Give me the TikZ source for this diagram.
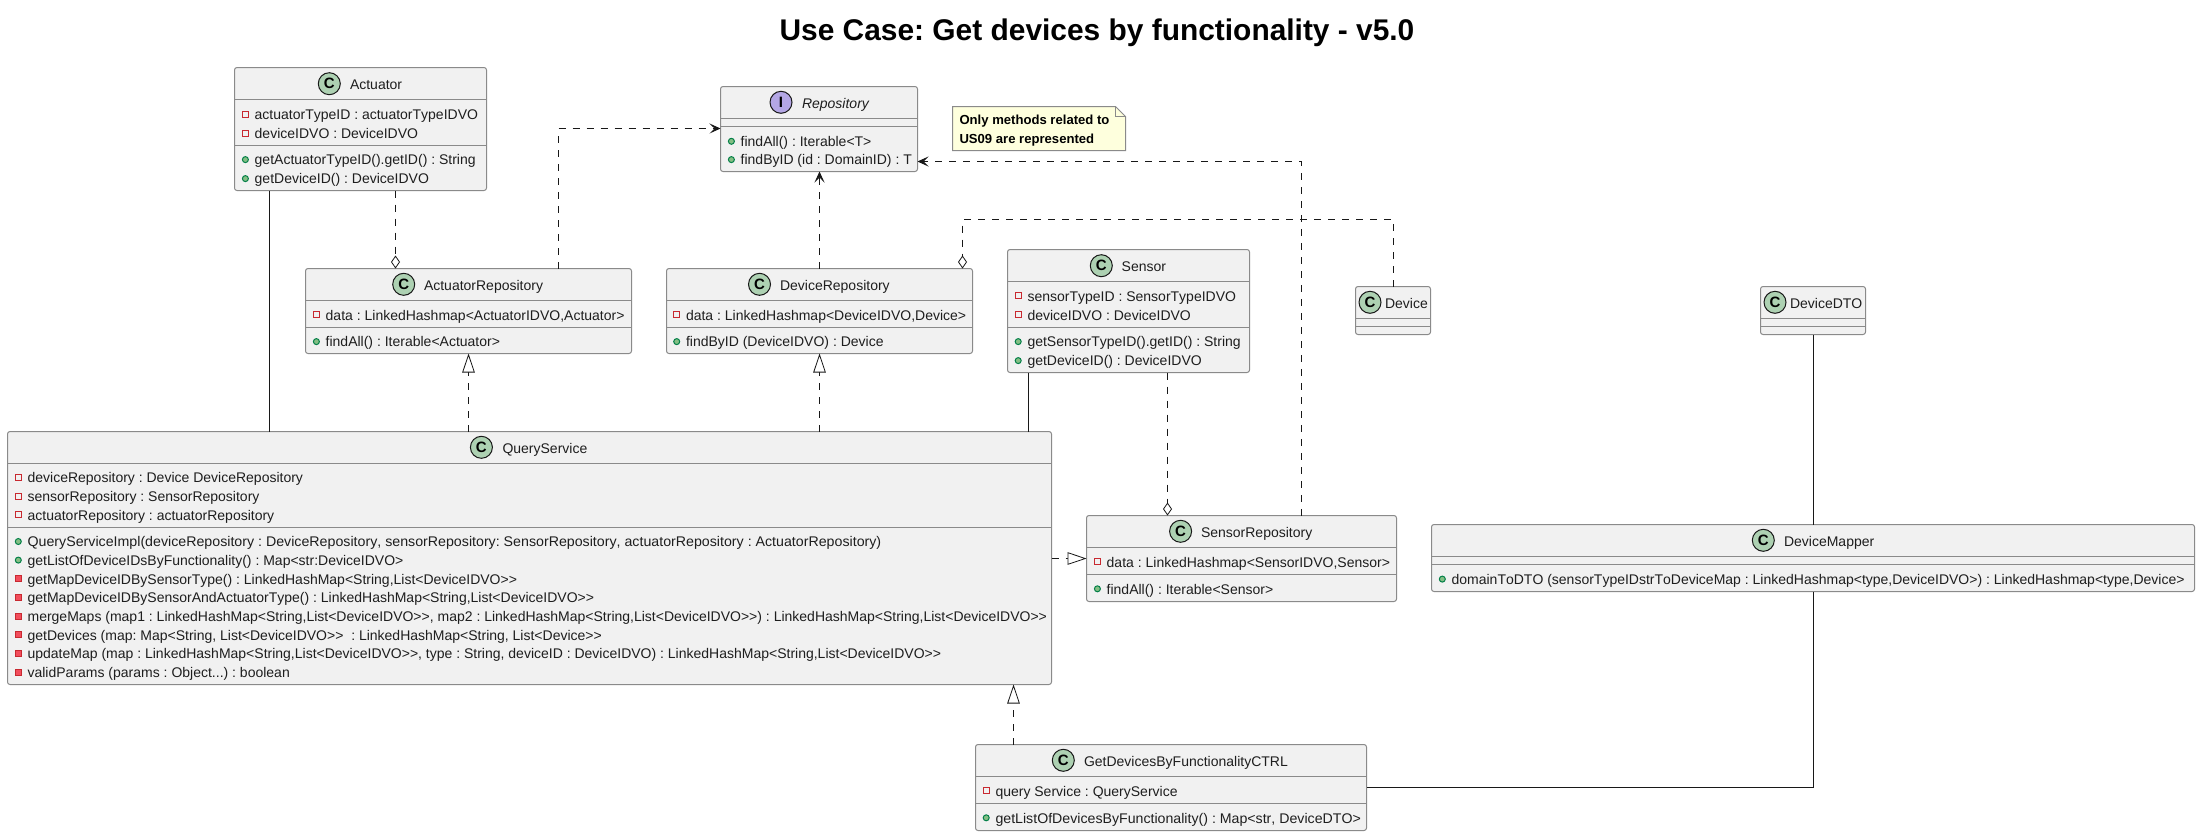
\documentclass[tikz,border=0pt]{standalone}
\usepackage{fontspec}
\usetikzlibrary{arrows.meta}
\newfontfamily\umlfont{Liberation Sans}[Kerning=Off]
\frenchspacing
\definecolor{boxfill}{HTML}{F1F1F1}
\definecolor{boxline}{HTML}{8A8A8A}
\definecolor{conn}{HTML}{181818}
\definecolor{txt}{HTML}{1E1E1E}
\definecolor{privline}{HTML}{C82930}
\definecolor{privfill}{HTML}{F24D5C}
\definecolor{publine}{HTML}{038048}
\definecolor{pubfill}{HTML}{84BE84}
\definecolor{iconc}{HTML}{ADD1B2}
\definecolor{iconi}{HTML}{B4A7E5}
\definecolor{notefill}{HTML}{FEFFDD}
\newcounter{rowno}
\tikzset{
  clsbox/.style={draw=boxline,fill=boxfill,line width=1pt,rounded corners=2.5pt,inner sep=0pt,outer sep=0pt},
  sepline/.style={draw=boxline,line width=1pt},
  rowtext/.style={inner sep=0pt,outer sep=0pt,anchor=base west,text=txt,font=\umlfont\fontsize{14}{16}\selectfont\frenchspacing},
  titletext/.style={rowtext},
  solidline/.style={draw=conn,line width=0.65pt},
  dashline/.style={draw=conn,line width=0.8pt,dash pattern=on 7pt off 7pt},
  dep/.style={dashline,-{Stealth[length=11pt,width=10pt,inset=5pt,fill=conn]}},
  aggr/.style={dashline,-{Diamond[open,length=13pt,width=9pt,fill=white]}},
  real/.style={dashline,-{Triangle[open,length=19pt,width=12.5pt,fill=white]}},
}
% name, x1, y1, x2, y2, sep1, sep2
\newcommand\clsbox[7]{%
  \pgfmathsetmacro\bw{#4-#2}\pgfmathsetmacro\bh{#5-#3}%
  \pgfmathsetmacro\cx{(#4+#2)/2}\pgfmathsetmacro\cy{(#5+#3)/2}%
  \node[clsbox,minimum width=\bw pt,minimum height=\bh pt] (#1) at (\cx,\cy) {};
  \draw[sepline] (#1.west |- 0,#6) -- (#1.east |- 0,#6);
  \draw[sepline] (#1.west |- 0,#7) -- (#1.east |- 0,#7);
}
% name, icon x, icon y, text x, letter, fill, title
\newcommand\clshead[7]{%
  \fill[#6,draw=conn,line width=1pt] (#2,#3) circle (11pt);
  \pgfmathsetmacro\by{#3+6}%
  \stepcounter{rowno}%
  \node[inner sep=0pt,anchor=center,text=black,font=\umlfont\fontsize{15}{16}\selectfont\bfseries] (ic\therowno) at (#2,#3) {#5};
  \node[titletext] (#1) at (#4,\by) {#7};
}
% attribute row
\newcommand\attr[3]{%
  \pgfmathsetmacro\mx{#1+10.7}\pgfmathsetmacro\my{#2-5.2}\pgfmathsetmacro\tx{#1+20}%
  \draw[privline,line width=1pt] (\mx-3,\my-3) rectangle (\mx+3,\my+3);
  \stepcounter{rowno}\node[rowtext] (r\therowno) at (\tx,#2) {#3};
}
% public method row
\newcommand\pubm[3]{%
  \pgfmathsetmacro\mx{#1+10.7}\pgfmathsetmacro\my{#2-5.2}\pgfmathsetmacro\tx{#1+20}%
  \fill[pubfill,draw=publine,line width=1pt] (\mx,\my) circle (3pt);
  \stepcounter{rowno}\node[rowtext] (r\therowno) at (\tx,#2) {#3};
}
% private method row
\newcommand\privm[3]{%
  \pgfmathsetmacro\mx{#1+10.7}\pgfmathsetmacro\my{#2-5.2}\pgfmathsetmacro\tx{#1+20}%
  \fill[privfill,draw=privline,line width=1pt] (\mx-3,\my-3) rectangle (\mx+3,\my+3);
  \stepcounter{rowno}\node[rowtext] (r\therowno) at (\tx,#2) {#3};
}
\begin{document}
\begin{tikzpicture}[x=1pt,y=-1pt]
\fill[white] (0,0) rectangle (2200,836);
\useasboundingbox (0,0) rectangle (2200,836);

% guide coordinates for connector positions
\coordinate (xA) at (269.5,0);
\coordinate (xB) at (395.5,0);
\coordinate (xC) at (558.5,0);
\coordinate (xD) at (468.5,0);
\coordinate (xE) at (819.5,0);
\coordinate (xF) at (1393.5,0);
\coordinate (xG) at (962.5,0);
\coordinate (xH) at (1301.5,0);
\coordinate (xI) at (1028.5,0);
\coordinate (xJ) at (1167.5,0);
\coordinate (xK) at (1013.5,0);
\coordinate (xL) at (1813.5,0);
\coordinate (yA) at (0,128.5);
\coordinate (yB) at (0,219.5);
\coordinate (yC) at (0,161.5);
\coordinate (yD) at (0,558.5);
\coordinate (yE) at (0,787.5);

\node[inner sep=0pt,anchor=base,text=black,font=\umlfont\fontsize{29.9}{32}\selectfont\bfseries\frenchspacing] (title) at (1097,40.7) {Use Case: Get devices by functionality - v5.0};

% Actuator
\clsbox{act}{234.5}{67.5}{486.5}{190.5}{99.5}{145.5}
\clshead{actT}{329.3}{83.7}{350}{C}{iconc}{Actuator}
\attr{234.7}{119.3}{actuatorTypeID : actuatorTypeIDVO}
\attr{234.7}{138.3}{deviceIDVO : DeviceIDVO}
\pubm{234.7}{164.8}{getActuatorTypeID().getID() : String}
\pubm{234.7}{183.8}{getDeviceID() : DeviceIDVO}

% ActuatorRepository
\clsbox{arepo}{305.5}{268.5}{631.5}{353.5}{300.5}{327.5}
\clshead{arepoT}{403.7}{284.3}{424}{C}{iconc}{ActuatorRepository}
\attr{305.7}{320}{data : LinkedHashmap<ActuatorIDVO,Actuator>}
\pubm{305.7}{346.8}{findAll() : Iterable<Actuator>}

% Repository
\clsbox{repo}{720.5}{86.5}{917.5}{171.5}{118.5}{126.5}
\clshead{repoT}{781}{102.3}{802}{I}{iconi}{\itshape Repository}
\pubm{720.7}{146.5}{findAll() : Iterable<T>}
\pubm{720.7}{164.8}{findByID (id : DomainID) : T}

% Note
\draw[draw=boxline,fill=notefill,line width=1pt] (952.5,106.5) coordinate (noteA) -- (1115.5,106.5) -- (1125.5,116.5) -- (1125.5,150.5) -- (952.5,150.5) -- cycle;
\draw[draw=boxline,line width=1pt] (1115.5,106.5) -- (1115.5,116.5) -- (1125.5,116.5);
\node[inner sep=0pt,anchor=base west,text=black,font=\umlfont\fontsize{13.1}{16}\selectfont\bfseries] (note1) at (959.3,124.7) {Only methods related to};
\node[inner sep=0pt,anchor=base west,text=black,font=\umlfont\fontsize{13.1}{16}\selectfont\bfseries] (note2) at (959.3,143.3) {US09 are represented};

% DeviceRepository
\clsbox{drepo}{666.5}{268.5}{972.5}{353.5}{300.5}{327.5}
\clshead{drepoT}{759.5}{284.3}{780}{C}{iconc}{DeviceRepository}
\attr{666}{320}{data : LinkedHashmap<DeviceIDVO,Device>}
\pubm{666}{346.8}{findByID (DeviceIDVO) : Device}

% Sensor
\clsbox{sens}{1007.5}{249.5}{1249.5}{372.5}{281.5}{327.5}
\clshead{sensT}{1101.3}{265.7}{1121.7}{C}{iconc}{Sensor}
\attr{1007.5}{301}{sensorTypeID : SensorTypeIDVO}
\attr{1007.5}{320}{deviceIDVO : DeviceIDVO}
\pubm{1007.5}{346.8}{getSensorTypeID().getID() : String}
\pubm{1007.5}{365.8}{getDeviceID() : DeviceIDVO}

% Device
\clsbox{dev}{1355.5}{286.5}{1430.5}{334.5}{318.5}{326.5}
\clshead{devT}{1370}{302.3}{1385}{C}{iconc}{Device}

% DeviceDTO
\clsbox{dto}{1760.5}{286.5}{1865.5}{334.5}{318.5}{326.5}
\clshead{dtoT}{1775}{302.3}{1790}{C}{iconc}{DeviceDTO}

% QueryService
\clsbox{qs}{7.5}{431.5}{1051.5}{684.5}{463.5}{527.5}
\clshead{qsT}{481.4}{447.3}{502.5}{C}{iconc}{QueryService}
\attr{7.6}{482.8}{deviceRepository : Device DeviceRepository}
\attr{7.6}{501.5}{sensorRepository : SensorRepository}
\attr{7.6}{520.1}{actuatorRepository : actuatorRepository}
\pubm{7.6}{546.7}{\scalebox{1.015}[1]{QueryServiceImpl(deviceRepository : DeviceRepository, sensorRepository: SensorRepository, actuatorRepository : ActuatorRepository)}}
\pubm{7.6}{565.3}{getListOfDeviceIDsByFunctionality() : Map<str:DeviceIDVO>}
\privm{7.6}{584}{getMapDeviceIDBySensorType() : LinkedHashMap<String,List<DeviceIDVO>>}
\privm{7.6}{602.7}{getMapDeviceIDBySensorAndActuatorType() : LinkedHashMap<String,List<DeviceIDVO>>}
\privm{7.6}{621.3}{mergeMaps (map1 : LinkedHashMap<String,List<DeviceIDVO>>, map2 : LinkedHashMap<String,List<DeviceIDVO>>) : LinkedHashMap<String,List<DeviceIDVO>>}
\privm{7.6}{640}{getDevices (map: Map<String, List<DeviceIDVO>>\ \ : LinkedHashMap<String, List<Device>>}
\privm{7.6}{658.7}{updateMap (map : LinkedHashMap<String,List<DeviceIDVO>>, type : String, deviceID : DeviceIDVO) : LinkedHashMap<String,List<DeviceIDVO>>}
\privm{7.6}{677.3}{validParams (params : Object...) : boolean}

% SensorRepository
\clsbox{srepo}{1086.5}{515.5}{1396.5}{601.5}{547.5}{574.5}
\clshead{srepoT}{1180.6}{531.3}{1201}{C}{iconc}{SensorRepository}
\attr{1086.7}{567}{data : LinkedHashmap<SensorIDVO,Sensor>}
\pubm{1086.7}{594}{findAll() : Iterable<Sensor>}

% GetDevicesByFunctionalityCTRL
\clsbox{ctrl}{975.5}{744.5}{1366.5}{830.5}{776.5}{803.5}
\clshead{ctrlT}{1063.3}{760.3}{1084}{C}{iconc}{GetDevicesByFunctionalityCTRL}
\attr{975.5}{796}{query Service : QueryService}
\pubm{975.5}{823}{\scalebox{1.012}[1]{getListOfDevicesByFunctionality() : Map<str, DeviceDTO>}}

% DeviceMapper
\clsbox{map}{1431.5}{524.5}{2194.5}{591.5}{556.5}{564.5}
\clshead{mapT}{1763.3}{540.3}{1784}{C}{iconc}{DeviceMapper}
\pubm{1431.6}{584.3}{domainToDTO (sensorTypeIDstrToDeviceMap : LinkedHashmap<type,DeviceIDVO>) : LinkedHashmap<type,Device>}

% Connectors
\draw[solidline] (act.south -| xA) -- (qs.north -| xA);
\draw[aggr] (act.south -| xB) -- (arepo.north -| xB);
\draw[dep] (arepo.north -| xC) -- (xC |- yA) -- (repo.west |- yA);
\draw[real] (qs.north -| xD) -- (arepo.south -| xD);
\draw[dep] (drepo.north -| xE) -- (repo.south -| xE);
\draw[aggr] (dev.north -| xF) -- (xF |- yB) -- (xG |- yB) -- (drepo.north -| xG);
\draw[dep] (srepo.north -| xH) -- (xH |- yC) -- (repo.east |- yC);
\draw[real] (qs.north -| xE) -- (drepo.south -| xE);
\draw[solidline] (sens.south -| xI) -- (qs.north -| xI);
\draw[aggr] (sens.south -| xJ) -- (srepo.north -| xJ);
\draw[real] (qs.east |- yD) -- (srepo.west |- yD);
\draw[real] (ctrl.north -| xK) -- (qs.south -| xK);
\draw[solidline] (dto.south -| xL) -- (map.north -| xL);
\draw[solidline] (map.south -| xL) -- (xL |- yE) -- (ctrl.east |- yE);
\end{tikzpicture}
\end{document}
